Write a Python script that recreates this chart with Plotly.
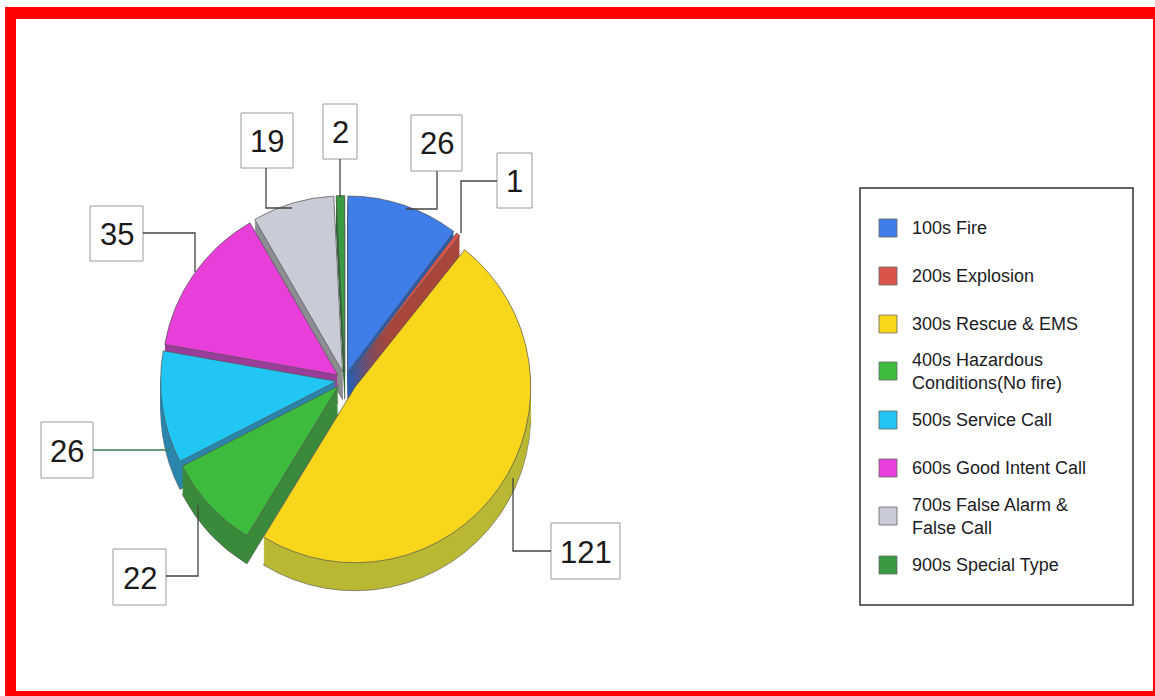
import plotly.graph_objects as go

W, H = 1155, 696

categories = ["100s Fire", "200s Explosion", "300s Rescue & EMS",
              "400s Hazardous<br>Conditions(No fire)", "500s Service Call",
              "600s Good Intent Call", "700s False Alarm &<br>False Call",
              "900s Special Type"]
values = [26, 1, 121, 22, 26, 35, 19, 2]
top_colors = ["#3f7ee8", "#d9544a", "#f7d61c", "#3cbb3c", "#22c6f2",
              "#e83fd8", "#c9cbd6", "#3a9a42"]
side_colors = ["#2c5cae", "#a8463a", "#b9b834", "#3b8a3b", "#2b86ad",
               "#9b3d9b", "#8c8e92", "#2b6b32"]
pulls = [0.05, 0.05, 0.07, 0.05, 0.05, 0.05, 0.05, 0.05]


def px(x):
    return x / W


def py(y):
    return 1 - y / H


fig = go.Figure()

# pie geometry (pixels)
cx, cy, half = 345, 380, 188
depth, step = 28, 2

for k in range(depth, 0, -step):
    fig.add_trace(go.Pie(
        values=values, labels=categories, sort=False, direction="clockwise",
        rotation=0, pull=pulls, textinfo="none", hoverinfo="skip",
        showlegend=False,
        marker=dict(colors=side_colors,
                    line=dict(color="rgba(60,60,60,0.0)" if k != depth else "#555", width=0.6)),
        domain=dict(x=[px(cx - half), px(cx + half)],
                    y=[py(cy + half + k), py(cy - half + k)]),
    ))

fig.add_trace(go.Pie(
    values=values, labels=categories, sort=False, direction="clockwise",
    rotation=0, pull=pulls, textinfo="none", showlegend=False,
    marker=dict(colors=top_colors, line=dict(color="#555", width=0.7)),
    domain=dict(x=[px(cx - half), px(cx + half)],
                y=[py(cy + half), py(cy - half)]),
))

shapes = []
annotations = []

# red frame
for (x0, y0, x1, y1) in [(5, 7, 1155, 19), (5, 7, 16, 696),
                         (1153, 7, 1155, 696), (5, 691, 1155, 696)]:
    shapes.append(dict(type="rect", xref="paper", yref="paper",
                       x0=px(x0), x1=px(x1), y0=py(y1), y1=py(y0),
                       fillcolor="#ff0000", line=dict(width=0), layer="above"))

# value label boxes: (value index, box x0, y0, x1, y1, leader path points)
label_boxes = [
    (0, 411, 115, 462, 171, [(437, 171), (437, 209), (406, 209)]),
    (1, 497, 153, 532, 208, [(497, 181), (461, 181), (461, 233)]),
    (2, 551, 523, 620, 579, [(551, 551), (513, 551), (513, 478)]),
    (3, 113, 549, 166, 605, [(166, 576), (198, 576), (198, 505)]),
    (4, 41, 422, 93, 478, [(93, 450), (170, 450)]),
    (5, 90, 206, 143, 261, [(143, 233), (195, 233), (195, 272)]),
    (6, 241, 113, 293, 168, [(266, 168), (266, 208), (292, 208)]),
    (7, 323, 104, 357, 159, [(340, 159), (340, 197)]),
]
line_cols = ["#444", "#444", "#444", "#444", "#3a7a5a", "#444", "#444", "#444"]
for idx, x0, y0, x1, y1, pts in label_boxes:
    shapes.append(dict(type="rect", xref="paper", yref="paper",
                       x0=px(x0), x1=px(x1), y0=py(y1), y1=py(y0),
                       fillcolor="white", line=dict(color="#9a9a9a", width=1)))
    path = "M " + " L ".join(f"{px(a):.5f},{py(b):.5f}" for a, b in pts)
    shapes.append(dict(type="path", xref="paper", yref="paper", path=path,
                       line=dict(color=line_cols[idx], width=1.3)))
    annotations.append(dict(x=px((x0 + x1) / 2), y=py((y0 + y1) / 2 + 1),
                            xref="paper", yref="paper", text=str(values[idx]),
                            showarrow=False,
                            font=dict(family="Liberation Sans, Arial", size=31,
                                      color="#1a1a1a"),
                            xanchor="center", yanchor="middle"))

# legend box
shapes.append(dict(type="rect", xref="paper", yref="paper",
                   x0=px(860), x1=px(1133), y0=py(605), y1=py(188),
                   fillcolor="white", line=dict(color="#333", width=1.5)))
item_y = [228, 276, 324, 371, 420, 468, 516, 565]
for i, name in enumerate(categories):
    yc = item_y[i]
    shapes.append(dict(type="rect", xref="paper", yref="paper",
                       x0=px(879), x1=px(897), y0=py(yc + 9), y1=py(yc - 9),
                       fillcolor=top_colors[i], line=dict(color="#666", width=0.8)))
    annotations.append(dict(x=px(910), y=py(yc), xref="paper", yref="paper",
                            text=name, showarrow=False, align="left",
                            xanchor="left", yanchor="middle",
                            font=dict(family="Liberation Sans, Arial", size=18,
                                      color="#1c1c24")))

fig.update_layout(
    width=W, height=H,
    margin=dict(l=0, r=0, t=0, b=0),
    paper_bgcolor="white", plot_bgcolor="white",
    shapes=shapes, annotations=annotations,
    showlegend=False,
)

fig.write_html("out.html",
               config={"displayModeBar": False},
               post_script="document.body.style.margin='0px';"
                           "document.body.style.overflow='hidden';")
